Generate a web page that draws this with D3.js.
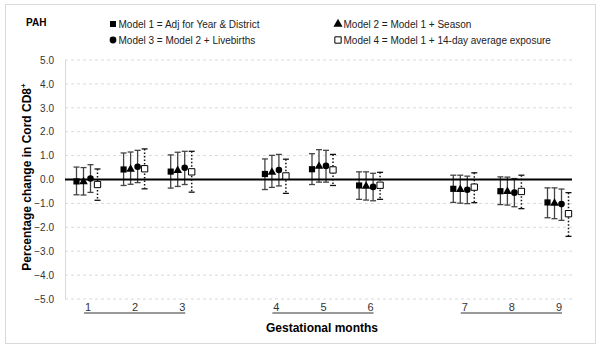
<!DOCTYPE html>
<html>
<head>
<meta charset="utf-8">
<script src="https://cdn.jsdelivr.net/npm/d3@7"></script>
<style>
  body { margin: 0; background: #fff; }
  svg text { font-family: "Liberation Sans", Arial, sans-serif; }
</style>
</head>
<body>
<div class="chart-container"></div>
<script>
// Gestational months, with empty slots separating the trimesters
const slots = ["1", "2", "3", "g1", "4", "5", "6", "g2", "7", "8", "9"];
const months = ["1", "2", "3", "4", "5", "6", "7", "8", "9"];
const trimesters = [["1", "3"], ["4", "6"], ["7", "9"]];
const yTicks = [5, 4, 3, 2, 1, 0, -1, -2, -3, -4, -5];

const modelNames = [
    "Model 1 = Adj for Year & District",
    "Model 2 = Model 1 + Season",
    "Model 3 = Model 2 + Livebirths",
    "Model 4 = Model 1 + 14-day average exposure"
];

// percentage change and 95% CI per month
const m1Est = [-0.08, 0.42, 0.33, 0.23, 0.43, -0.25, -0.39, -0.49, -0.96];
const m1Lo = [-0.64, -0.25, -0.36, -0.42, -0.21, -0.83, -0.96, -1.05, -1.60];
const m1Hi = [0.52, 1.11, 1.03, 0.86, 1.08, 0.32, 0.18, 0.11, -0.35];

const m2Est = [-0.09, 0.43, 0.38, 0.30, 0.55, -0.28, -0.42, -0.50, -0.99];
const m2Lo = [-0.65, -0.20, -0.29, -0.33, -0.11, -0.86, -0.99, -1.07, -1.64];
const m2Hi = [0.50, 1.15, 1.14, 1.01, 1.25, 0.32, 0.18, 0.10, -0.35];

const m3Est = [0.04, 0.53, 0.49, 0.40, 0.57, -0.31, -0.43, -0.55, -1.03];
const m3Lo = [-0.54, -0.13, -0.21, -0.27, -0.11, -0.89, -1.01, -1.14, -1.71];
const m3Hi = [0.62, 1.22, 1.18, 1.05, 1.22, 0.26, 0.14, 0.04, -0.40];

const m4Est = [-0.21, 0.45, 0.32, 0.15, 0.40, -0.24, -0.32, -0.50, -1.43];
const m4Lo = [-0.87, -0.39, -0.53, -0.58, -0.25, -0.83, -0.97, -1.22, -2.38];
const m4Hi = [0.44, 1.28, 1.18, 0.85, 1.05, 0.30, 0.28, 0.18, -0.55];

const models = [
    { id: "m1", est: m1Est, lo: m1Lo, hi: m1Hi, shape: d3.symbolSquare, size: 38, fill: "#000", dotted: false },
    { id: "m2", est: m2Est, lo: m2Lo, hi: m2Hi, shape: d3.symbolTriangle, size: 32, fill: "#000", dotted: false },
    { id: "m3", est: m3Est, lo: m3Lo, hi: m3Hi, shape: d3.symbolCircle, size: 34, fill: "#000", dotted: false },
    { id: "m4", est: m4Est, lo: m4Lo, hi: m4Hi, shape: d3.symbolSquare, size: 40, fill: "#fff", dotted: true }
];

const width = 600;
const height = 348;
const plotLeft = 65;
const plotRight = 572;

const svg = d3.select('.chart-container').append("svg")
    .attr("width", width)
    .attr("height", height);

// outer frame
svg.append("rect")
    .attr("x", 5.5).attr("y", 4.5)
    .attr("width", 590).attr("height", 339)
    .attr("fill", "#fff")
    .attr("stroke", "#d9d9d9");

const x = d3.scalePoint().domain(slots).range([87, 558]);
const offset = d3.scalePoint().domain(models.map(m => m.id)).range([-10.5, 10.5]);
const y = d3.scaleLinear().domain([-5, 5]).range([299, 60]);

// gridlines
svg.append("g")
    .selectAll("line")
    .data(yTicks.filter(d => d !== 0))
    .enter()
    .append("line")
    .attr("x1", plotLeft).attr("x2", plotRight)
    .attr("y1", d => y(d)).attr("y2", d => y(d))
    .attr("stroke", "#d9d9d9")
    .attr("stroke-dasharray", "3,3");

// y axis
const yAxis = svg.append("g")
    .attr("transform", `translate(${plotLeft},0)`)
    .call(d3.axisLeft(y).tickValues(yTicks).tickFormat(d3.format(".1f")).tickSize(0).tickPadding(11));
yAxis.select(".domain").attr("stroke", "#d9d9d9");
yAxis.selectAll("text").attr("font-size", 10).attr("fill", "#333")
    .attr("font-family", "Liberation Sans, Arial, sans-serif");

// error bars
const bars = svg.append("g");
models.forEach(m => {
    const g = bars.append("g");
    const rows = months.map((mo, i) => ({ mo, est: m.est[i], lo: m.lo[i], hi: m.hi[i] }));
    const cx = d => x(d.mo) + offset(m.id);

    g.selectAll(".stem")
        .data(rows)
        .enter()
        .append("line")
        .attr("x1", cx).attr("x2", cx)
        .attr("y1", d => y(d.hi)).attr("y2", d => y(d.lo))
        .attr("stroke", m.dotted ? "#111" : "#444")
        .attr("stroke-width", m.dotted ? 1.5 : 1.3)
        .attr("stroke-dasharray", m.dotted ? "1.5,2" : null);

    ["lo", "hi"].forEach(k => {
        g.selectAll(".cap-" + k)
            .data(rows)
            .enter()
            .append("line")
            .attr("x1", d => cx(d) - 3).attr("x2", d => cx(d) + 3)
            .attr("y1", d => y(d[k])).attr("y2", d => y(d[k]))
            .attr("stroke", m.dotted ? "#111" : "#444")
            .attr("stroke-width", 1.3);
    });
});

// zero line
svg.append("line")
    .attr("x1", plotLeft).attr("x2", plotRight)
    .attr("y1", y(0)).attr("y2", y(0))
    .attr("stroke", "#000")
    .attr("stroke-width", 2);

// point estimates
models.forEach(m => {
    svg.append("g")
        .selectAll("path")
        .data(months.map((mo, i) => ({ mo, est: m.est[i] })))
        .enter()
        .append("path")
        .attr("d", d3.symbol().type(m.shape).size(m.size))
        .attr("transform", d => `translate(${x(d.mo) + offset(m.id)},${y(d.est)})`)
        .attr("fill", m.fill)
        .attr("stroke", "#000")
        .attr("stroke-width", m.fill === "#fff" ? 1 : 0);
});

// month labels with underline per trimester
svg.append("g")
    .selectAll("text")
    .data(months)
    .enter()
    .append("text")
    .attr("x", d => x(d) + 1)
    .attr("y", 311)
    .attr("text-anchor", "middle")
    .attr("font-size", 11)
    .attr("fill", "#333")
    .text(d => d);

svg.append("g")
    .selectAll("line")
    .data(trimesters)
    .enter()
    .append("line")
    .attr("x1", d => x(d[0]) - 3).attr("x2", d => x(d[1]) + 4)
    .attr("y1", 313).attr("y2", 313)
    .attr("stroke", "#777")
    .attr("stroke-width", 1.4);

// axis titles
svg.append("text")
    .attr("x", 322).attr("y", 332)
    .attr("text-anchor", "middle")
    .attr("font-size", 12).attr("font-weight", "bold")
    .text("Gestational months");

const yTitle = svg.append("text")
    .attr("transform", `translate(31,177) rotate(-90)`)
    .attr("text-anchor", "middle")
    .attr("font-size", 12).attr("font-weight", "bold");
yTitle.append("tspan").text("Percentage change in Cord CD8");
yTitle.append("tspan").attr("font-size", 8).attr("dy", -5).text("+");

// legend
svg.append("text")
    .attr("x", 26).attr("y", 25.5)
    .attr("font-size", 10).attr("font-weight", "bold")
    .text("PAH");

const legendPos = [[113, 24], [338, 24], [113, 40], [338, 40]];
const legend = svg.append("g");
models.forEach((m, i) => {
    const [lx, ly] = legendPos[i];
    legend.append("path")
        .attr("d", d3.symbol().type(m.shape).size(m.fill === "#fff" ? 40 : 36))
        .attr("transform", `translate(${lx},${ly})`)
        .attr("fill", m.fill)
        .attr("stroke", "#000")
        .attr("stroke-width", m.fill === "#fff" ? 1 : 0);
    legend.append("text")
        .attr("x", lx + 5.5).attr("y", ly + 3.5)
        .attr("font-size", 10)
        .attr("fill", "#222")
        .text(modelNames[i]);
});
</script>
</body>
</html>
